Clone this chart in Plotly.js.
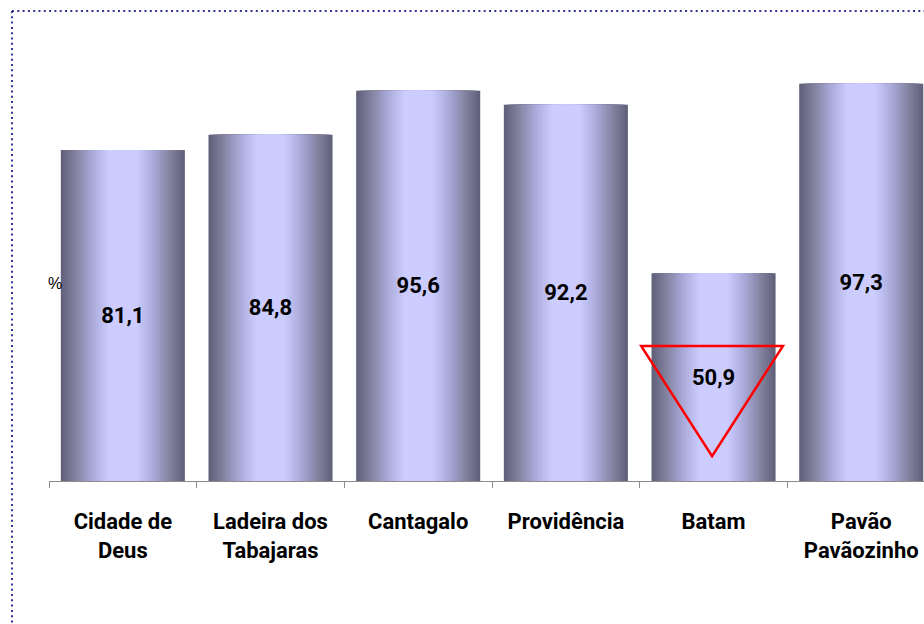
<!DOCTYPE html>
<html>
<head>
<meta charset="utf-8">
<script src="https://cdn.plot.ly/plotly-3.0.1.min.js"></script>
<style>
  html, body { margin: 0; padding: 0; background: #ffffff; }
  #chart { width: 924px; height: 624px; }
</style>
</head>
<body>
<div id="chart"></div>
<script>
var categories = ['Cidade de<br>Deus', 'Ladeira dos<br>Tabajaras', 'Cantagalo', 'Providência', 'Batam', 'Pavão<br>Pavãozinho'];
var values = [81.1, 84.8, 95.6, 92.2, 50.9, 97.3];

var labelFont = 'Roboto, Liberation Sans, sans-serif';
var barWidth = 0.84;

// colour across the bar, 0 = centre, 1 = edge
var gradStops = [[0, [204, 204, 255]], [0.22, [204, 204, 255]], [0.5, [168, 168, 216]], [0.75, [132, 132, 162]], [1, [94, 94, 120]]];
function gradColor(d) {
    for (var i = 1; i < gradStops.length; i++) {
        if (d <= gradStops[i][0]) {
            var a = gradStops[i - 1], b = gradStops[i];
            var t = (d - a[0]) / (b[0] - a[0]);
            var c = a[1].map(function (v, j) { return Math.round(v + (b[1][j] - v) * t); });
            return 'rgb(' + c.join(',') + ')';
        }
    }
    return 'rgb(94,94,120)';
}

var data = [];
var N = 30;
for (var k = 0; k < N; k++) {
    var f = 1 - k / N;
    data.push({
        type: 'bar', x: categories, y: values,
        width: barWidth * f,
        marker: {color: gradColor(f - 0.5 / N), line: {width: 0}},
        hoverinfo: 'skip', showlegend: false
    });
}
// value labels on a clear bar on top
data.push({
    type: 'bar', x: categories, y: values,
    width: barWidth,
    marker: {color: 'rgba(0,0,0,0)', line: {width: 0}},
    texttemplate: '%{y:.1f}', textposition: 'inside', insidetextanchor: 'middle',
    textangle: 0, constraintext: 'none',
    textfont: {family: labelFont, size: 22, color: '#000000', weight: 'bold'},
    hoverinfo: 'skip', showlegend: false
});

var bi = categories.indexOf('Batam');
var dotLine = {color: '#33339a', width: 2, dash: '2px,3.3px'};

var layout = {
    width: 924, height: 624,
    margin: {l: 49, r: 0, t: 32, b: 143},
    paper_bgcolor: '#ffffff', plot_bgcolor: '#ffffff',
    separators: ',.',
    barmode: 'overlay',
    font: {family: labelFont, color: '#000000'},
    xaxis: {
        type: 'category', range: [-0.5, 5.425],
        showline: true, linecolor: '#8c8c8c', linewidth: 1,
        ticks: 'outside', tickson: 'boundaries', ticklen: 6, tickcolor: '#8c8c8c',
        tickangle: 0, ticklabelstandoff: 21,
        tickfont: {family: labelFont, size: 22, color: '#000000', weight: 'bold'},
        showgrid: false, zeroline: false, fixedrange: true
    },
    yaxis: {
        range: [0, 110], showline: false, showticklabels: false, ticks: '',
        showgrid: false, zeroline: false, fixedrange: true
    },
    annotations: [{
        text: '%', xref: 'paper', yref: 'y', x: 0, y: 48.5, xanchor: 'center', xshift: 6,
        showarrow: false, font: {family: 'Liberation Sans, Arial, sans-serif', size: 16, color: '#000000'}
    }],
    shapes: [
        {type: 'line', xref: 'paper', yref: 'paper', x0: -0.0423, x1: 1.0, y0: 1.0468, y1: 1.0468, line: dotLine},
        {type: 'line', xref: 'paper', yref: 'paper', x0: -0.0423, x1: -0.0423, y0: 1.0468, y1: -0.33, line: dotLine},
        {type: 'path', xref: 'x', yref: 'y',
         path: 'M' + (bi - 0.49) + ',33.1 L' + (bi + 0.47) + ',33.1 L' + (bi - 0.01) + ',6.1 Z',
         line: {color: '#ff0000', width: 2.5}, fillcolor: 'rgba(0,0,0,0)'}
    ]
};

Plotly.newPlot('chart', data, layout, {displayModeBar: false, staticPlot: true});
</script>
</body>
</html>
